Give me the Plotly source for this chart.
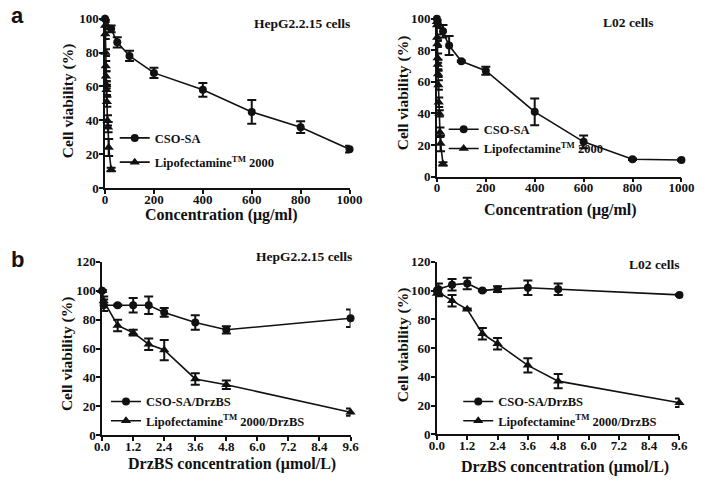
import plotly.graph_objects as go

# ---------------- data ----------------
# Panel a (left): HepG2.2.15 cells
a_cso_x = [0, 25, 50, 100, 200, 400, 600, 800, 1000]
a1_cso_y = [100, 94, 86, 78, 68, 58, 45, 36, 23]
a1_cso_e = [0.5, 2, 3, 3, 3, 4, 7, 3.5, 2]
a_lipo_x = [0, 0.5, 1, 2, 3, 4, 5, 6, 7.5, 10, 12.5, 15, 25]
a1_lipo_y = [100, 96, 91, 80, 72, 66, 61, 58, 51, 40, 36, 24, 11]
a1_lipo_e = [0.5, 2, 3, 2, 3, 3, 2, 3, 3, 3, 3, 5, 1]

# Panel a (right): L02 cells
a2_cso_y = [100, 92, 83, 73, 67, 41, 22, 11, 10.5]
a2_cso_e = [0.5, 4, 6, 0.5, 2.5, 8.5, 4, 0.5, 0.5]
a2_lipo_y = [98, 96, 88, 84, 75, 71, 65, 58, 47, 40, 28, 21, 8]
a2_lipo_e = [1, 2, 2, 2, 3, 3, 2, 3, 3, 2, 3, 5, 1]

# Panel b (left): HepG2.2.15 cells
b_x = [0, 0.06, 0.6, 1.2, 1.8, 2.4, 3.6, 4.8, 9.6]
b1_cso_y = [100, 90, 90, 90, 90, 85, 78, 73, 81]
b1_cso_e = [0.5, 4, 0.5, 5, 6, 3, 5, 2.5, 6]
b1_lipo_y = [100, 93, 76, 71, 63, 59, 39, 35, 16]
b1_lipo_e = [0.5, 3, 4, 2, 4, 7, 4, 3, 2.5]

# Panel b (right): L02 cells
b2_cso_y = [100, 101, 104, 105, 100, 101, 102, 101, 97]
b2_cso_e = [0.5, 4, 4, 4, 0.5, 2, 5, 4, 0.5]
b2_lipo_y = [98, 99, 93, 87, 70, 63, 48, 37, 22]
b2_lipo_e = [0.5, 3, 4, 0.5, 4, 4, 5, 5, 3]

a_xticks = [0, 200, 400, 600, 800, 1000]
a_yticks = [0, 20, 40, 60, 80, 100]
b_xticks = [0, 1.2, 2.4, 3.6, 4.8, 6.0, 7.2, 8.4, 9.6]
b_yticks = [0, 20, 40, 60, 80, 100, 120]

labels_a = ["CSO-SA", "Lipofectamine<sup>TM</sup> 2000"]
labels_b = ["CSO-SA/DrzBS", "Lipofectamine<sup>TM</sup> 2000/DrzBS"]

W, H = 708, 484
SERIF = "Liberation Serif"
BLACK = "#111111"

def px(v):
    return v / W

def py(v):
    return 1 - v / H

fig = go.Figure()

def add_series(x, y, e, name, symbol, size, xa, ya, legend):
    fig.add_trace(go.Scatter(
        x=x, y=y, name=name, mode="lines+markers",
        line=dict(color=BLACK, width=1.6),
        marker=dict(symbol=symbol, size=size, color=BLACK),
        error_y=dict(type="data", array=e, visible=True, color=BLACK, thickness=2, width=4.5),
        xaxis=xa, yaxis=ya, legend=legend, legendgroup=name + legend,
        cliponaxis=False,
    ))

add_series(a_cso_x, a1_cso_y, a1_cso_e, labels_a[0], "circle", 8, "x", "y", "legend")
add_series(a_lipo_x, a1_lipo_y, a1_lipo_e, labels_a[1], "triangle-up", 9, "x", "y", "legend")
add_series(a_cso_x, a2_cso_y, a2_cso_e, labels_a[0], "circle", 8, "x2", "y2", "legend2")
add_series(a_lipo_x, a2_lipo_y, a2_lipo_e, labels_a[1], "triangle-up", 9, "x2", "y2", "legend2")
add_series(b_x, b1_cso_y, b1_cso_e, labels_b[0], "circle", 8, "x3", "y3", "legend3")
add_series(b_x, b1_lipo_y, b1_lipo_e, labels_b[1], "triangle-up", 9, "x3", "y3", "legend3")
add_series(b_x, b2_cso_y, b2_cso_e, labels_b[0], "circle", 8, "x4", "y4", "legend4")
add_series(b_x, b2_lipo_y, b2_lipo_e, labels_b[1], "triangle-up", 9, "x4", "y4", "legend4")

tickfont = dict(family=SERIF, size=13, color=BLACK, weight="bold")
axcommon = dict(showline=True, linecolor=BLACK, linewidth=1.6, ticks="outside",
                ticklen=4, tickwidth=1.6, tickcolor=BLACK, showgrid=False,
                zeroline=False, tickfont=tickfont, fixedrange=True)

doms = {
    "a1": ([px(100), px(352)], [py(187), py(12)]),
    "a2": ([px(442), px(694)], [py(175), py(12)]),
    "b1": ([px(97), px(353)], [py(442), py(263)]),
    "b2": ([px(442), px(692)], [py(441), py(263)]),
}

layout = dict(
    width=W, height=H, margin=dict(l=0, r=0, t=0, b=0),
    paper_bgcolor="white", plot_bgcolor="white", showlegend=True,
)
axes = [("a1", "", a_xticks, a_yticks, [0, 1000], [0, 100], None),
        ("a2", "2", a_xticks, a_yticks, [0, 1000], [0, 100], None),
        ("b1", "3", b_xticks, b_yticks, [0, 9.6], [0, 120], ".1f"),
        ("b2", "4", b_xticks, b_yticks, [0, 9.6], [0, 120], ".1f")]
for key, sfx, xt, yt, xr, yr, fmt in axes:
    xd, yd = doms[key]
    xa = dict(axcommon, domain=xd, range=xr, tickvals=xt, anchor="y" + sfx,
              ticklabelstandoff=-6)
    if fmt:
        xa["tickformat"] = fmt
    ya = dict(axcommon, domain=yd, range=yr, tickvals=yt, anchor="x" + sfx,
              ticklabelstandoff=-2)
    layout["xaxis" + sfx] = xa
    layout["yaxis" + sfx] = ya

legfont = dict(family=SERIF, size=12.5, color=BLACK, weight="bold")
def leg(x, y, gap, order="normal"):
    return dict(x=px(x), y=py(y), xanchor="left", yanchor="top", bgcolor="rgba(0,0,0,0)",
                font=legfont, tracegroupgap=gap, traceorder=order, itemwidth=30)

layout["legend"] = leg(110, 120, 5, "grouped")
layout["legend2"] = leg(449, 111, 2)
layout["legend3"] = leg(101, 392, 2)
layout["legend4"] = leg(464, 392, 2)

fig.update_layout(**layout)

def ann(text, x, y, size, angle=0, xanchor="center", family=SERIF):
    fig.add_annotation(text=text, x=px(x), y=py(y), xref="paper", yref="paper",
                       showarrow=False, textangle=angle, xanchor=xanchor, yanchor="middle",
                       font=dict(family=family, size=size, color=BLACK, weight="bold"))

# panel letters
ann("a", 10, 9, 22, family="Liberation Sans")
ann("b", 10, 261, 22, family="Liberation Sans")
# cell labels
ann("HepG2.2.15 cells", 354, 17, 13.5, xanchor="right")
ann("L02 cells", 639, 16, 13.5)
ann("HepG2.2.15 cells", 357, 257, 13.5, xanchor="right")
ann("L02 cells", 666, 266, 13.5)
# y titles
ann("Cell viability (%)", 62, 97, 15.5, angle=-90)
ann("Cell viability (%)", 407, 88, 15.5, angle=-90)
ann("Cell viability (%)", 61, 358, 15.5, angle=-90)
ann("Cell viability (%)", 407, 348, 15.5, angle=-90)
# x titles
ann("Concentration (μg/ml)", 220, 215, 16)
ann("Concentration (μg/ml)", 569, 209, 16)
ann("DrzBS concentration (μmol/L)", 231, 472, 16)
ann("DrzBS concentration (μmol/L)", 574, 475, 16)

fig.write_html("out.html")
